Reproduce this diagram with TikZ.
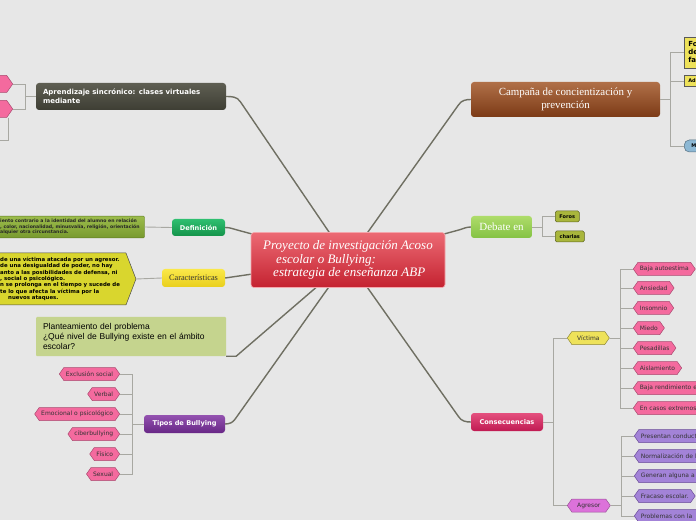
\documentclass[tikz,border=0pt]{standalone}
\usepackage{fontspec}
\setmainfont{Liberation Serif}
\newfontfamily\vsans{DejaVu Sans}
\newfontfamily\asans{Liberation Sans}
\usepackage{tikz}
\usetikzlibrary{positioning, calc, shapes.symbols}
\definecolor{mybg}{HTML}{E7E7E7}
\definecolor{linkgray}{HTML}{6F6F62}
\definecolor{brgray}{HTML}{A8A8A2}
\definecolor{myredtop}{HTML}{EC6A74}
\definecolor{myredbot}{HTML}{C42230}
\definecolor{mydarktop}{HTML}{5E5E52}
\definecolor{mydarkbot}{HTML}{3E3E34}
\definecolor{mygreentop}{HTML}{2FBF70}
\definecolor{mygreenbot}{HTML}{14934A}
\definecolor{myyellowtop}{HTML}{FAE84A}
\definecolor{myyellowbot}{HTML}{E9CF1C}
\definecolor{mylime}{HTML}{C5D48E}
\definecolor{mypurpletop}{HTML}{9452B0}
\definecolor{mypurplebot}{HTML}{672786}
\definecolor{mybrowntop}{HTML}{B07048}
\definecolor{mybrownbot}{HTML}{7C3A16}
\definecolor{mylgreentop}{HTML}{AEDC6A}
\definecolor{mylgreenbot}{HTML}{84C244}
\definecolor{mycrimtop}{HTML}{E4507E}
\definecolor{mycrimbot}{HTML}{C01A52}
\definecolor{mypink}{HTML}{F46A9E}
\definecolor{mypinkline}{HTML}{A94A70}
\definecolor{mylilac}{HTML}{A383D8}
\definecolor{mylilacline}{HTML}{6B4C98}
\definecolor{myorchid}{HTML}{DC72DA}
\definecolor{myvic}{HTML}{EEE25A}
\definecolor{myolive}{HTML}{A9B63C}
\definecolor{mydeftop}{HTML}{9CBC4C}
\definecolor{mydefbot}{HTML}{789A2E}
\definecolor{myfact}{HTML}{D9D62E}
\definecolor{mysky}{HTML}{8DB8D4}
\tikzset{
	mainlink/.style={draw=linkgray, line width=1.4pt},
	brlink/.style={draw=brgray, line width=0.9pt}
}
\tikzset{
	topic/.style={rounded corners=3pt, inner sep=0pt, align=center},
	topictext/.style={font=\vsans\bfseries\fontsize{6.6}{9}\selectfont, text=white}
}
\tikzset{
	hexnode/.style={signal, signal to=east and west, signal pointer angle=110,
		minimum height=13, inner xsep=2pt, inner ysep=0pt, line width=0.5pt,
		font=\vsans\fontsize{6}{7}\selectfont, text=black!80},
	pinkhex/.style={hexnode, fill=mypink, draw=mypinkline},
	lilachex/.style={hexnode, fill=mylilac, draw=mylilacline},
	smallbox/.style={rounded corners=1.5pt, fill=myolive, draw=myolive!55!black,
		minimum height=11, inner xsep=2.5pt, inner ysep=0pt, line width=0.5pt,
		font=\vsans\bfseries\fontsize{5}{6}\selectfont},
	factbox/.style={fill=myvic, draw=black!65, line width=0.5pt, anchor=west,
		inner xsep=4pt, inner ysep=0pt, align=left, text width=60}
}
\begin{document}
\begin{tikzpicture}[x=1pt,y=1pt]
\useasboundingbox (0,0) rectangle (696,520);
\clip (0,0) rectangle (696,520);
\fill[mybg] (0,0) rectangle (696,520);

\coordinate (cMain) at (348,260);
\coordinate (cApr) at (131,423.5);
\coordinate (cDef) at (198.5,292.5);
\coordinate (cCar) at (193.5,242);
\coordinate (cPla) at (131,183.5);
\coordinate (cTip) at (184.5,96);
\coordinate (cCam) at (565.5,420.5);
\coordinate (cDeb) at (501.5,293);
\coordinate (cCon) at (507,98);
\coordinate (aKnee) at (8,0);
\coordinate (aEnd) at (0,380);

% left side
\node[topic, minimum width=190, minimum height=27, text width=176, align=left,
	top color=mydarktop, bottom color=mydarkbot, topictext, font=\vsans\bfseries\fontsize{7}{9}\selectfont] (apr) at (cApr)
	{Aprendizaje sincrónico: clases virtuales\\mediante};
\node[pinkhex, anchor=east, minimum height=17, minimum width=40] (aHexA) at (13,436) {};
\node[pinkhex, anchor=east, minimum height=17, minimum width=40] (aHexB) at (13,411) {};

\node[topic, minimum width=53, minimum height=17, top color=mygreentop,
	bottom color=mygreenbot, topictext] (def) at (cDef) {Definición};
\node[rounded corners=1pt, top color=mydeftop, bottom color=mydefbot, draw=mydefbot!80!black,
	line width=0.4pt, anchor=west, inner xsep=5pt, inner ysep=3pt, align=left,
	font=\vsans\bfseries\fontsize{4.6}{5.5}\selectfont, text=black!85] (defTxt) at (-5,293)
	{iento contrario a la identidad del alumno en relación\\
	, color, nacionalidad,  minusvalía, religión, orientación\\
	alquier otra circunstancia.};

\node[topic, minimum width=63, minimum height=18, top color=myyellowtop,
	bottom color=myyellowbot, font=\fontsize{8.3}{9}\selectfont, text=black!80] (car) at (cCar) {Características};
\node[signal, signal to=east, signal pointer angle=138, fill=myfact, draw=black!70,
	line width=0.5pt, anchor=west, inner xsep=6pt, inner ysep=0pt, minimum height=52, align=left,
	font=\vsans\bfseries\fontsize{5.4}{6.3}\selectfont] (carTxt) at (-6,241)
	{de una víctima atacada por un agresor.\\
	de una desigualdad de poder, no hay\\
	anto a las posibilidades de defensa, ni\\
	, social o psicológico.\\
	n se prolonga en  el  tiempo y  sucede de\\
	te lo  que afecta la víctima por la\\
	\hspace*{8pt}nuevos ataques.};

\node[topic, rounded corners=1pt, minimum width=190, minimum height=39, text width=176,
	align=left, fill=mylime, font=\asans\fontsize{8.5}{10}\selectfont] (pla) at (cPla)
	{Planteamiento del problema\\¿Qué nivel de Bullying existe en el ámbito\\escolar?};

\node[topic, minimum width=81, minimum height=18, top color=mypurpletop,
	bottom color=mypurplebot, topictext] (tip) at (cTip) {Tipos de Bullying};
\node[pinkhex, anchor=east] (tExc) at (120,146) {Exclusión social};
\node[pinkhex, anchor=east] (tVer) at (120,126) {Verbal};
\node[pinkhex, anchor=east] (tEmo) at (120,106) {Emocional o psicológico};
\node[pinkhex, anchor=east] (tCib) at (120,86) {ciberbullying};
\node[pinkhex, anchor=east] (tFis) at (120,66) {Físico};
\node[pinkhex, anchor=east] (tSex) at (120,46) {Sexual};

% right side
\node[topic, minimum width=189, minimum height=35, top color=mybrowntop,
	bottom color=mybrownbot, font=\fontsize{10.9}{12.5}\selectfont, text=white] (cam) at (cCam)
	{Campaña de concientización y\\prevención};
\node[factbox, minimum height=31, font=\vsans\bfseries\fontsize{7}{8}\selectfont] (kFo) at (684,467.5) {Fo\\de\\fa};
\node[factbox, minimum height=11, font=\vsans\bfseries\fontsize{5}{6}\selectfont] (kAd) at (684,439) {Ad};
\node[factbox, rounded corners=5pt, fill=mysky, draw=mysky!60!black, inner xsep=7pt,
	minimum height=12, font=\vsans\bfseries\fontsize{5}{6}\selectfont] (kM) at (684,374) {M};

\node[topic, minimum width=61, minimum height=22, top color=mylgreentop,
	bottom color=mylgreenbot, font=\fontsize{11}{12}\selectfont, text=white] (deb) at (cDeb) {Debate en};
\node[smallbox, anchor=west, minimum width=24] (dForos) at (555,303.5) {Foros};
\node[smallbox, anchor=west, minimum width=29] (dCharlas) at (555,283.5) {charlas};

\node[topic, minimum width=72, minimum height=18, top color=mycrimtop,
	bottom color=mycrimbot, topictext] (con) at (cCon) {Consecuencias};
\node[hexnode, fill=myvic, draw=myvic!60!black, anchor=west, minimum width=42] (vic) at (567,182) {Víctima};
\node[hexnode, fill=myorchid, draw=myorchid!70!black, anchor=west, minimum width=43] (agr) at (567,14.5) {Agresor};

\node[pinkhex, anchor=west] (v1) at (633,251) {Baja autoestima};
\node[pinkhex, anchor=west] (v2) at (633,232) {Ansiedad};
\node[pinkhex, anchor=west] (v3) at (633,212) {Insomnio};
\node[pinkhex, anchor=west] (v4) at (633,192) {Miedo};
\node[pinkhex, anchor=west] (v5) at (633,172) {Pesadillas};
\node[pinkhex, anchor=west] (v6) at (633,152) {Aislamiento};
\node[pinkhex, anchor=west, text width=70, align=left] (v7) at (633,132) {Baja rendimiento e};
\node[pinkhex, anchor=west, text width=70, align=left] (v8) at (633,112) {En casos extremos};

\node[lilachex, anchor=west, text width=70, align=left] (g1) at (634,84) {Presentan conduct};
\node[lilachex, anchor=west, text width=70, align=left] (g2) at (634,64) {Normalización de l};
\node[lilachex, anchor=west, text width=70, align=left] (g3) at (634,44) {Generan alguna a};
\node[lilachex, anchor=west] (g4) at (634,24) {Fracaso escolar.};
\node[lilachex, anchor=west, text width=70, align=left] (g5) at (634,4) {Problemas con la};

% branches
\foreach \n in {aHexA,aHexB}
	\draw[brlink] (apr.west) -- ++(-10,0) |- (\n.east);
\draw[brlink] (aHexB.south -| aKnee) |- (aEnd);
\draw[brlink] (def.west) -- (defTxt.east);
\draw[brlink] (car.west) -- (carTxt.east);
\foreach \n in {tExc,tVer,tEmo,tCib,tFis,tSex}
	\draw[brlink] (tip.west) -- ++(-11,0) |- (\n.east);
\foreach \n in {kFo,kAd,kM}
	\draw[brlink] (cam.east) -- ++(10,0) |- (\n.west);
\foreach \n in {dForos,dCharlas}
	\draw[brlink] (deb.east) -- ++(10,0) |- (\n.west);
\foreach \n in {vic,agr}
	\draw[brlink] (con.east) -- ++(10,0) |- (\n.west);
\foreach \i in {1,...,8}
	\draw[brlink] (vic.east) -- ++(11,0) |- (v\i.west);
\foreach \i in {1,...,5}
	\draw[brlink] (agr.east) -- ++(11,0) |- (g\i.west);

\draw[mainlink] (cMain) -- ($(apr.east)+(14,-5)$) to[out=124,in=0] (apr.east);
\draw[mainlink] (cMain) -- ($(def.east)+(12,-2.5)$) to[out=165,in=0] (def.east);
\draw[mainlink] (cMain) -- (car.east);
\draw[mainlink] (cMain) -- ($(pla.south east)+(10,0)$) -- (pla.south east);
\draw[mainlink] (cMain) -- ($(tip.east)+(10,5)$) to[out=-125,in=0] (tip.east);
\draw[mainlink] (cMain) -- ($(cam.west)+(-12,-5)$) to[out=55,in=180] (cam.west);
\draw[mainlink] (cMain) -- ($(deb.west)+(-12,-3)$) to[out=15,in=180] (deb.west);
\draw[mainlink] (cMain) -- ($(con.west)+(-12,5)$) to[out=-55,in=180] (con.west);

\node[topic, minimum width=194, minimum height=55, top color=myredtop, bottom color=myredbot,
	draw=myredtop!60!white, line width=0.6pt, align=left, font=\itshape\fontsize{13}{13.5}\selectfont,
	text=white] (main) at (cMain)
	{Proyecto de investigación Acoso\\\hspace*{13pt}escolar  o Bullying:\\\hspace*{10pt}estrategia de enseñanza ABP};

\end{tikzpicture}
\end{document}
